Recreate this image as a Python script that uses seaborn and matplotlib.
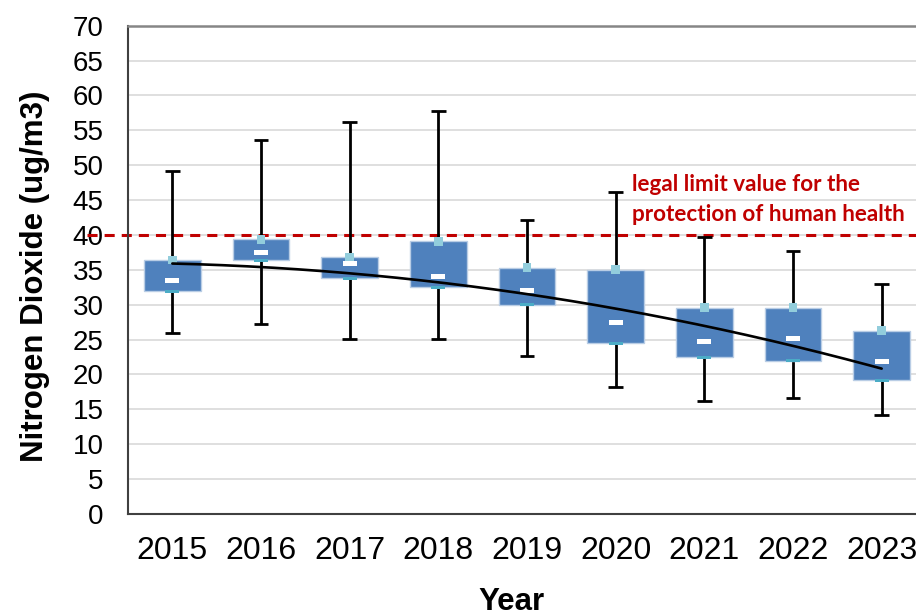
import numpy as np
import pandas as pd
import matplotlib
matplotlib.use("Agg")
import matplotlib.pyplot as plt
from matplotlib.ticker import MultipleLocator, FixedLocator
import seaborn as sns

# Annual NO2 statistics (ug/m3)
years = [2015, 2016, 2017, 2018, 2019, 2020, 2021, 2022, 2023]
low = [26.0, 27.2, 25.1, 25.1, 22.7, 18.2, 16.2, 16.7, 14.2]
q1 = [31.9, 36.4, 33.8, 32.5, 30.0, 24.5, 22.5, 22.0, 19.2]
median = [33.5, 37.5, 35.9, 34.0, 32.0, 27.4, 24.7, 25.1, 21.8]
q3 = [36.4, 39.4, 36.8, 39.1, 35.3, 35.0, 29.6, 29.6, 26.3]
high = [49.2, 53.6, 56.2, 57.8, 42.2, 46.1, 39.7, 37.7, 33.0]

limit_value = 40
limit_lines = ["legal limit value for the", "protection of human health"]
y_ticks = list(range(0, 75, 5))

BOX = "#4F81BD"
BOX_EDGE = "#B9CDE5"
Q3_COL = "#92CDDC"
Q1_COL = "#4BACC6"
RED = "#C00000"

sns.set_style("white")
plt.rcParams["font.family"] = ["Liberation Sans", "DejaVu Sans"]
plt.rcParams["text.color"] = "black"
plt.rcParams["axes.labelcolor"] = "black"
plt.rcParams["xtick.labelcolor"] = "black"
plt.rcParams["ytick.labelcolor"] = "black"

# five-number summary per year in long form
rows = []
for yr, a, b, c, d, e in zip(years, low, q1, median, q3, high):
    for v in (a, b, c, d, e):
        rows.append({"Year": yr, "NO2": v})
df = pd.DataFrame(rows)

W, H = 916, 616
fig = plt.figure(figsize=(W / 100, H / 100), dpi=100)
ax = fig.add_axes([128 / W, (H - 514) / H, 798 / W, (514 - 25.7) / H])

sns.boxplot(data=df, x="Year", y="NO2", orient="x", native_scale=True,
            whis=np.inf, width=0.64, color=BOX, saturation=1,
            linecolor="black", linewidth=2.0, showfliers=False,
            capwidths=0.166, medianprops={"visible": False}, ax=ax)
for p in ax.patches:
    p.set_edgecolor(BOX_EDGE)
    p.set_linewidth(1.0)
    p.set_zorder(3)
for ln in ax.lines:
    ln.set_zorder(2.5)
    ln.set_solid_capstyle("butt")

# limit line, extending left into the tick-label area
ax.axhline(limit_value, xmin=(87 - 128) / 798, xmax=1, color=RED, lw=2.2,
           dashes=(3.3, 2.3), clip_on=False, zorder=2)

# quartile and median markers
sq = dict(edgecolor="none", linewidth=0, legend=False, ax=ax)
sns.scatterplot(x=years, y=q3, marker="s", s=40, color=Q3_COL, zorder=5, **sq)
teal_dash = [(-0.5, -0.11), (0.5, -0.11), (0.5, 0.11), (-0.5, 0.11), (-0.5, -0.11)]
sns.scatterplot(x=years, y=q1, marker=teal_dash, s=102, color=Q1_COL, zorder=5, **sq)
white_dash = [(-0.5, -0.18), (0.5, -0.18), (0.5, 0.18), (-0.5, 0.18), (-0.5, -0.18)]
sns.scatterplot(x=years, y=median, marker=white_dash, s=102, color="white", zorder=5, **sq)

# second-order polynomial trend of the medians
yrs = np.array(years, dtype=float)
coef = np.polyfit(yrs - yrs[0], median, 2)
xs = np.linspace(yrs[0], yrs[-1], 200)
sns.lineplot(x=xs, y=np.polyval(coef, xs - yrs[0]), color="black", lw=1.9,
             zorder=6, ax=ax)

for txt, yv in zip(limit_lines, (46.3, 42.0)):
    ax.text(2020.18, yv, txt, color=RED, fontsize=16.2, fontweight="bold",
            family="Lato", ha="left", va="baseline")

ax.set_xlim(years[0] - 0.5, years[-1] + 0.5)
ax.set_ylim(0, 70)
ax.set_xticks(years)
ax.set_xticklabels([str(y) for y in years], fontsize=23)
ax.xaxis.set_minor_locator(FixedLocator([y - 0.5 for y in years] + [years[-1] + 0.5]))
ax.tick_params(axis="x", which="major", length=0, pad=16)
ax.tick_params(axis="x", which="minor", length=7, width=1, color="#595959", direction="out")
ax.set_yticks(y_ticks)
ax.set_yticklabels([str(v) for v in y_ticks], fontsize=20)
ax.yaxis.set_minor_locator(MultipleLocator(1))
ax.tick_params(axis="y", which="major", length=6.5, width=1, color="#404040",
               direction="out", pad=11)
ax.tick_params(axis="y", which="minor", length=4.5, width=1, color="#404040",
               direction="out")

ax.yaxis.grid(True, which="major", color="#D9D9D9", lw=1.2)
ax.xaxis.grid(False)
ax.set_axisbelow(True)

ax.spines["right"].set_visible(False)
ax.spines["top"].set_color("#868686")
ax.spines["top"].set_linewidth(1.8)
for s in ("left", "bottom"):
    ax.spines[s].set_color("#404040")
    ax.spines[s].set_linewidth(1.5)

ax.set_xlabel("Year", fontsize=22.5, fontweight="bold")
ax.xaxis.set_label_coords((511 - 128) / 798, -(587 - 514) / 488.3)
ax.set_ylabel("")
fig.text(35 / W, 1 - 276 / H, "Nitrogen Dioxide (ug/m3)", rotation=90,
         fontsize=22.5, fontweight="bold", ha="center", va="center")

fig.savefig("out.png", dpi=100)
